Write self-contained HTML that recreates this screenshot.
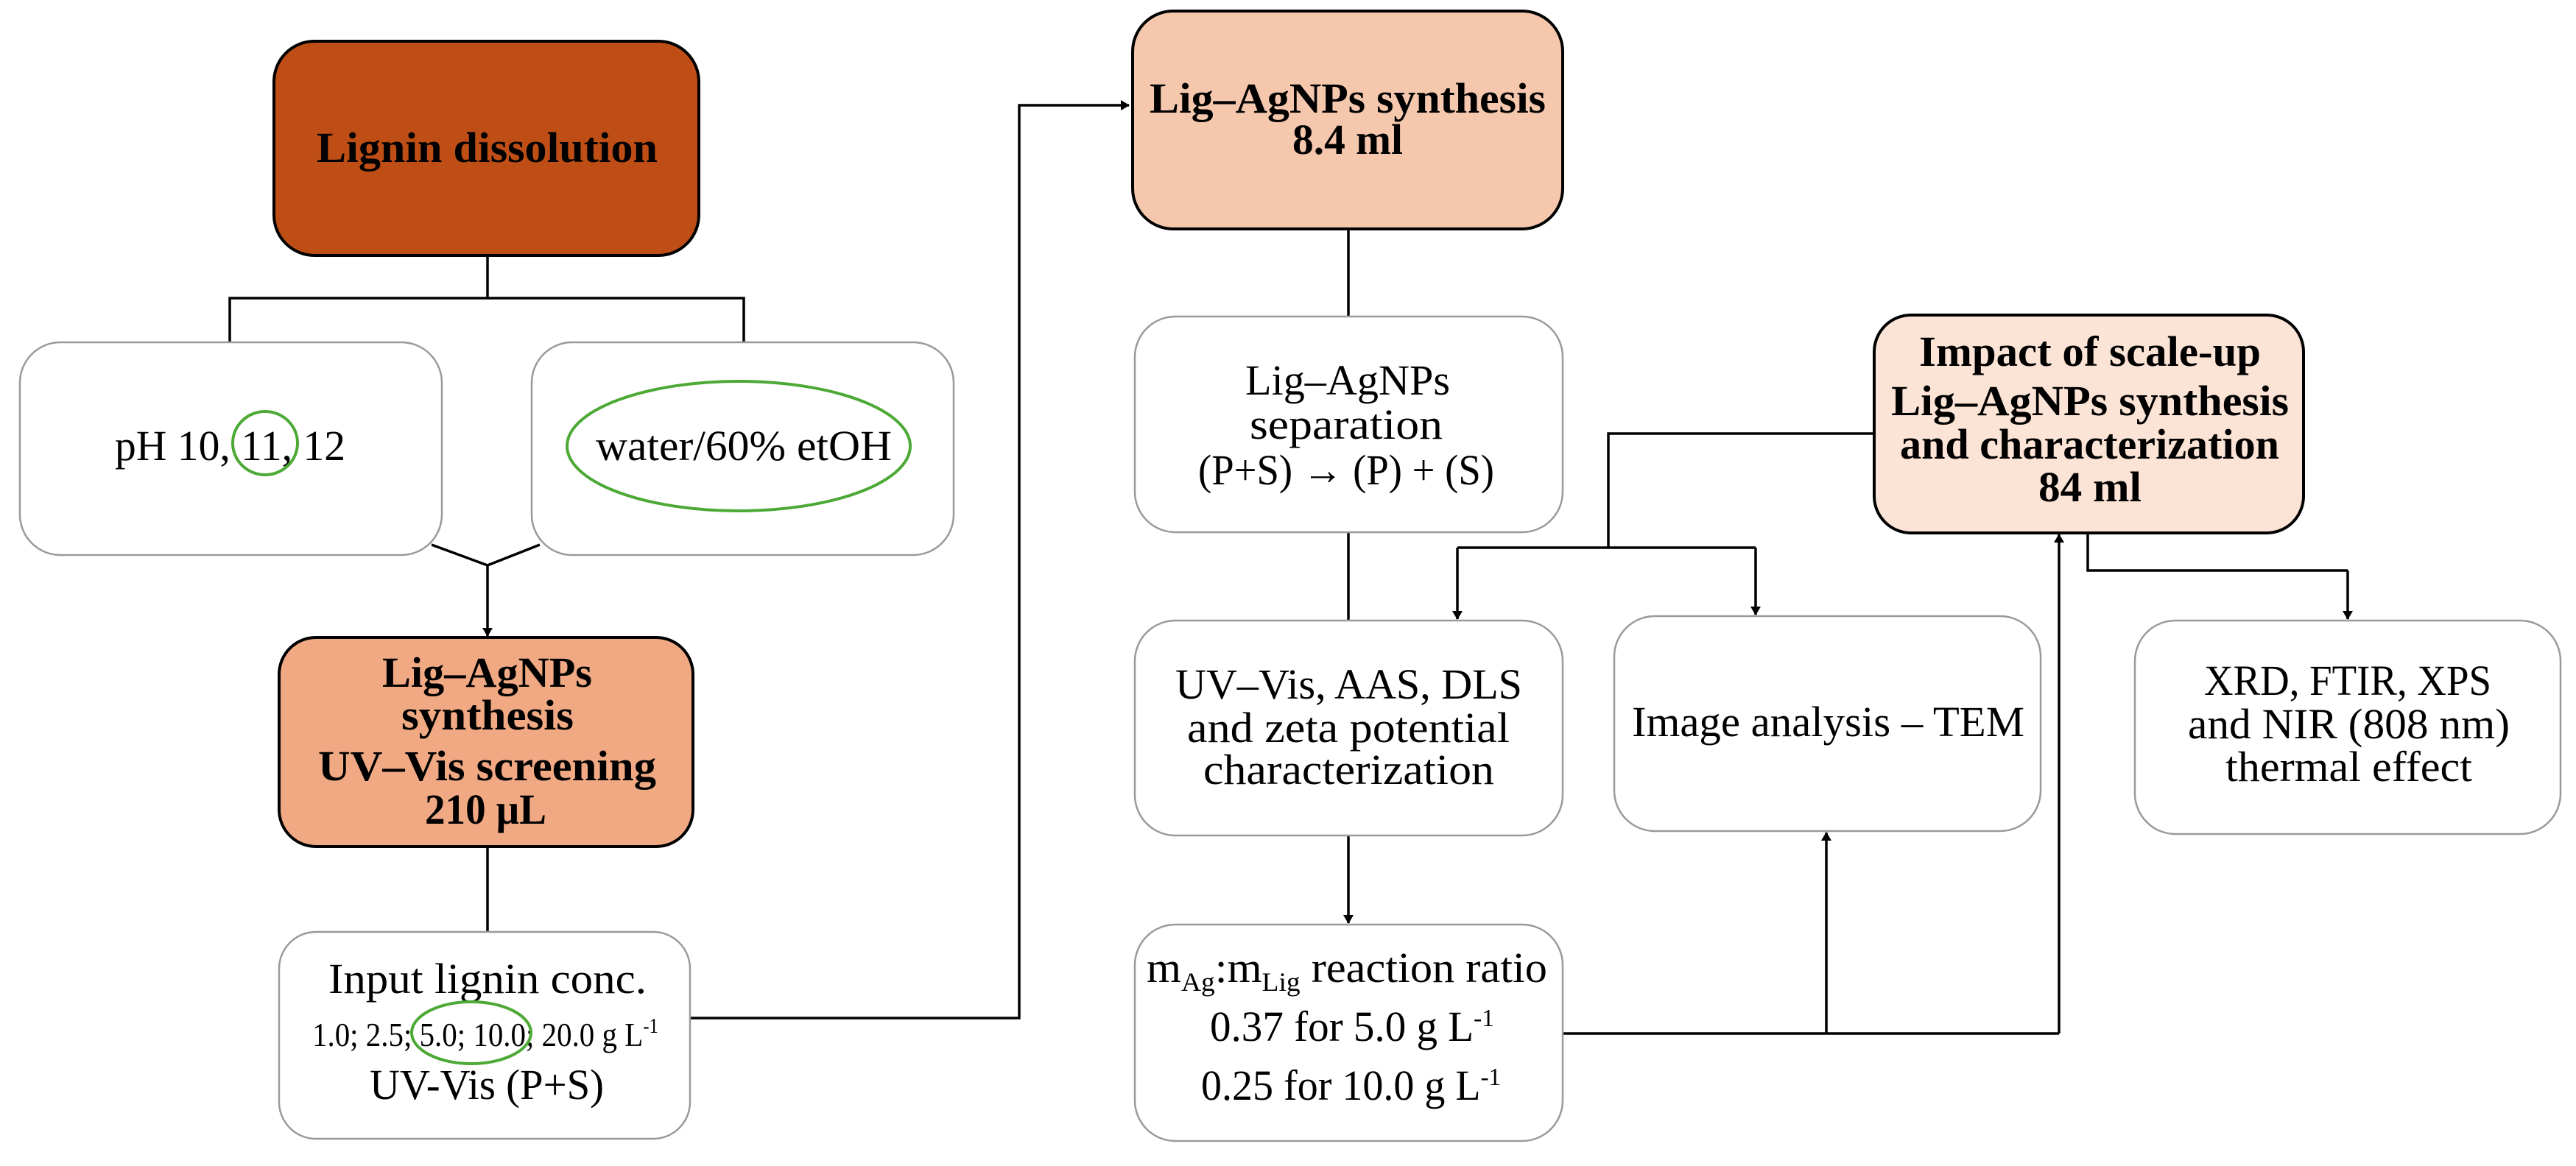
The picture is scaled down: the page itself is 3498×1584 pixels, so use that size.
<!DOCTYPE html>
<html><head><meta charset="utf-8"><style>
html,body{margin:0;padding:0;background:#fff;}
svg{display:block;}
text{font-family:"Liberation Serif",serif;font-size:58px;fill:#000;}
.b{font-weight:bold;}
</style></head><body>
<svg width="3498" height="1584" viewBox="0 0 3498 1584" xmlns="http://www.w3.org/2000/svg">
<defs>
<marker id="ar" markerWidth="12" markerHeight="14" refX="11" refY="7" orient="auto" markerUnits="userSpaceOnUse" viewBox="0 0 12 14">
<path d="M0,0 L12,7 L0,14 Z" fill="#000"/>
</marker>
</defs>
<g fill="none" stroke="#000" stroke-width="3.5">
<path d="M662,348 V405 M312,465 V405 H1010 V465"/>
<path d="M586,740 L662,768 L733,740"/>
<path d="M662,768 V864" marker-end="url(#ar)"/>
<path d="M662,1150 V1266"/>
<path d="M937,1383 H1384 V143 H1533" marker-end="url(#ar)"/>
<path d="M1831,311 V430 M1831,723 V843"/>
<path d="M1831,1135 V1254" marker-end="url(#ar)"/>
<path d="M2545,589 H2184 V744 M1979,744 H2384"/>
<path d="M1979,744 V841" marker-end="url(#ar)"/>
<path d="M2384,744 V835" marker-end="url(#ar)"/>
<path d="M2122,1404 H2796"/>
<path d="M2480,1404 V1131" marker-end="url(#ar)"/>
<path d="M2796,1404 V726" marker-end="url(#ar)"/>
<path d="M2835,724 V775 H3188"/>
<path d="M3188,775 V841" marker-end="url(#ar)"/>
</g>
<rect x="372" y="56" width="577" height="291" rx="55" fill="#BE4E16" stroke="#000" stroke-width="4"/>
<rect x="1538" y="15" width="584" height="296" rx="55" fill="#F5C8AE" stroke="#000" stroke-width="4"/>
<rect x="379" y="866" width="562" height="284" rx="50" fill="#F0A983" stroke="#000" stroke-width="4"/>
<rect x="2545" y="428" width="583" height="296" rx="50" fill="#FBE3D5" stroke="#000" stroke-width="4"/>
<g fill="#fff" stroke="#9a9a9a" stroke-width="2.5">
<rect x="27" y="465" width="573" height="289" rx="55"/>
<rect x="722" y="465" width="573" height="289" rx="55"/>
<rect x="379" y="1266" width="558" height="281" rx="50"/>
<rect x="1541" y="430" width="581" height="293" rx="55"/>
<rect x="1541" y="843" width="581" height="292" rx="55"/>
<rect x="2192" y="837" width="579" height="292" rx="55"/>
<rect x="2899" y="843" width="578" height="290" rx="55"/>
<rect x="1541" y="1256" width="581" height="294" rx="55"/>
</g>
<text class="b" x="430" y="220" textLength="463" lengthAdjust="spacingAndGlyphs">Lignin dissolution</text>
<text x="156" y="625" textLength="313" lengthAdjust="spacingAndGlyphs">pH 10, 11, 12</text>
<text x="809" y="625" textLength="402" lengthAdjust="spacingAndGlyphs">water/60% etOH</text>
<ellipse cx="360" cy="602" rx="44" ry="43" fill="none" stroke="#4CA935" stroke-width="4"/>
<ellipse cx="1003" cy="606" rx="233" ry="88" fill="none" stroke="#4CA935" stroke-width="4"/>

<text class="b" x="519" y="933" textLength="285" lengthAdjust="spacingAndGlyphs">Lig–AgNPs</text>
<text class="b" x="545" y="991" textLength="234" lengthAdjust="spacingAndGlyphs">synthesis</text>
<text class="b" x="432" y="1060" textLength="459" lengthAdjust="spacingAndGlyphs">UV–Vis screening</text>
<text class="b" x="577" y="1119" textLength="165" lengthAdjust="spacingAndGlyphs">210 µL</text>

<text x="446" y="1349" textLength="432" lengthAdjust="spacingAndGlyphs">Input lignin conc.</text>
<text x="424" y="1421" style="font-size:46px" textLength="470" lengthAdjust="spacingAndGlyphs">1.0; 2.5; 5.0; 10.0; 20.0 g L<tspan dy="-18" style="font-size:28px">-1</tspan></text>
<text x="502" y="1493" textLength="318" lengthAdjust="spacingAndGlyphs">UV-Vis (P+S)</text>
<ellipse cx="640" cy="1403" rx="81" ry="42" fill="none" stroke="#4CA935" stroke-width="4"/>

<text class="b" x="1561" y="153" textLength="538" lengthAdjust="spacingAndGlyphs">Lig–AgNPs synthesis</text>
<text class="b" x="1755" y="209" textLength="150" lengthAdjust="spacingAndGlyphs">8.4 ml</text>

<text x="1691" y="536" textLength="278" lengthAdjust="spacingAndGlyphs">Lig–AgNPs</text>
<text x="1697" y="596" textLength="262" lengthAdjust="spacingAndGlyphs">separation</text>
<text x="1627" y="658" textLength="402" lengthAdjust="spacingAndGlyphs">(P+S) → (P) + (S)</text>

<text class="b" x="2606" y="497" textLength="464" lengthAdjust="spacingAndGlyphs">Impact of scale-up</text>
<text class="b" x="2568" y="564" textLength="540" lengthAdjust="spacingAndGlyphs">Lig–AgNPs synthesis</text>
<text class="b" x="2580" y="623" textLength="515" lengthAdjust="spacingAndGlyphs">and characterization</text>
<text class="b" x="2768" y="681" textLength="140" lengthAdjust="spacingAndGlyphs">84 ml</text>

<text x="1596" y="949" textLength="471" lengthAdjust="spacingAndGlyphs">UV–Vis, AAS,  DLS</text>
<text x="1612" y="1008" textLength="438" lengthAdjust="spacingAndGlyphs">and zeta potential</text>
<text x="1634" y="1065" textLength="395" lengthAdjust="spacingAndGlyphs">characterization</text>

<text x="2216" y="1000" textLength="533" lengthAdjust="spacingAndGlyphs">Image analysis – TEM</text>

<text x="2993" y="944" textLength="390" lengthAdjust="spacingAndGlyphs">XRD, FTIR, XPS</text>
<text x="2971" y="1003" textLength="437" lengthAdjust="spacingAndGlyphs">and NIR (808 nm)</text>
<text x="3022" y="1061" textLength="335" lengthAdjust="spacingAndGlyphs">thermal effect</text>

<text x="1557" y="1334" textLength="544" lengthAdjust="spacingAndGlyphs">m<tspan dy="12" style="font-size:36px">Ag</tspan><tspan dy="-12">:m</tspan><tspan dy="12" style="font-size:36px">Lig</tspan><tspan dy="-12"> reaction ratio</tspan></text>
<text x="1643" y="1414" textLength="386" lengthAdjust="spacingAndGlyphs">0.37 for 5.0 g L<tspan dy="-20" style="font-size:34px">-1</tspan></text>
<text x="1631" y="1494" textLength="407" lengthAdjust="spacingAndGlyphs">0.25 for 10.0 g L<tspan dy="-20" style="font-size:34px">-1</tspan></text>
</svg>
</body></html>
